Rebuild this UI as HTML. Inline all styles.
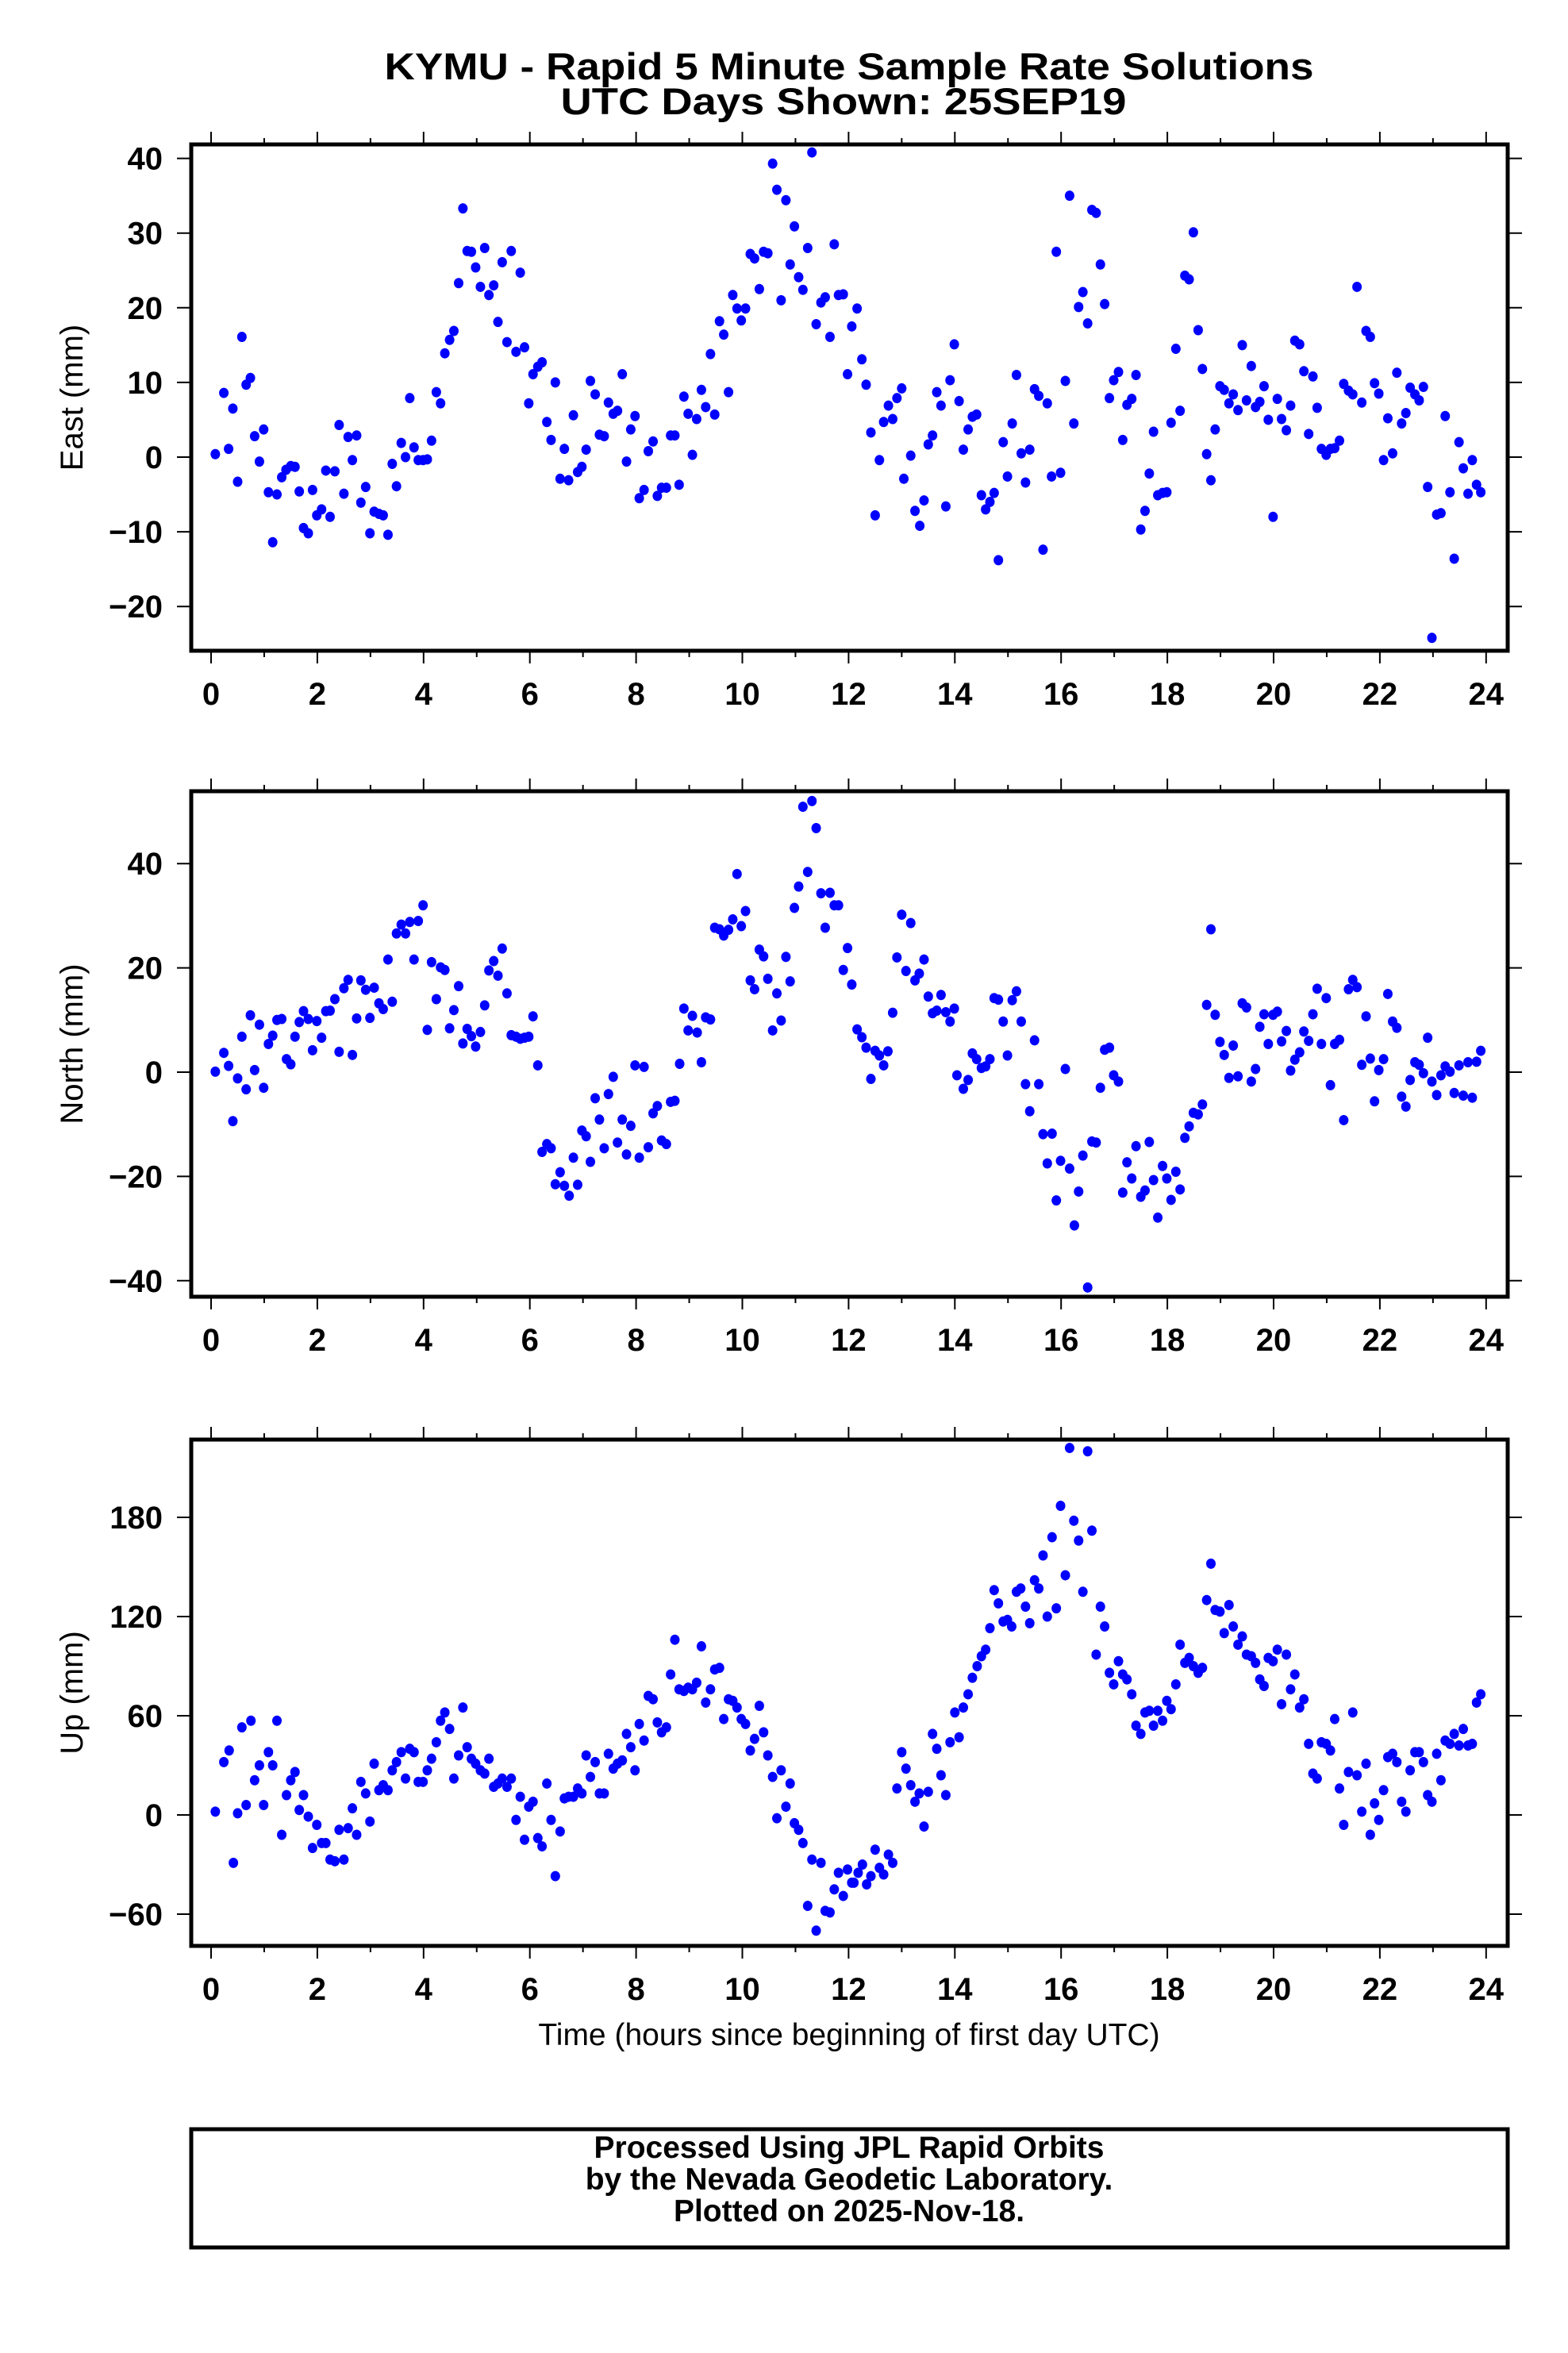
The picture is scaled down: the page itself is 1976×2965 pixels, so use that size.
<!DOCTYPE html>
<html><head><meta charset="utf-8"><style>
html,body{margin:0;padding:0;background:#fff}
svg{display:block}
text{font-family:"Liberation Sans",Arial,sans-serif;fill:#000}
</style></head><body>
<svg id="chart" width="1976" height="2965" viewBox="0 0 1976 2965" xmlns="http://www.w3.org/2000/svg">
<rect x="0" y="0" width="1976" height="2965" fill="#fff"/>
<text x="1070" y="100" font-size="47" font-weight="bold" text-anchor="middle" textLength="1171" lengthAdjust="spacingAndGlyphs">KYMU - Rapid 5 Minute Sample Rate Solutions</text>
<text x="1063" y="144" font-size="47" font-weight="bold" text-anchor="middle" textLength="713" lengthAdjust="spacingAndGlyphs">UTC Days Shown:  25SEP19</text>
<g id="panels"></g>
<text x="1070" y="2577" font-size="39" text-anchor="middle">Time (hours since beginning of first day UTC)</text>
<rect x="241" y="2683" width="1659" height="149" fill="none" stroke="#000" stroke-width="5"/>
<text x="1070" y="2719" font-size="39" font-weight="bold" text-anchor="middle">Processed Using JPL Rapid Orbits</text>
<text x="1070" y="2759" font-size="39" font-weight="bold" text-anchor="middle">by the Nevada Geodetic Laboratory.</text>
<text x="1070" y="2799" font-size="39" font-weight="bold" text-anchor="middle">Plotted on 2025-Nov-18.</text>
</svg>
<script>
const xTicks = [0,2,4,6,8,10,12,14,16,18,20,22,24];
const eastTicks = [-20,-10,0,10,20,30,40];
const northTicks = [-40,-20,0,20,40];
const upTicks = [-60,0,60,120,180];

const eastT = [0.08,0.24,0.33,0.41,0.5,0.58,0.66,0.74,0.82,0.91,0.99,1.08,1.16,1.24,1.33,1.41,1.5,1.58,1.66,1.74,1.83,1.91,1.99,2.08,2.16,2.24,2.33,2.41,2.5,2.58,2.66,2.74,2.82,2.91,2.99,3.07,3.16,3.24,3.33,3.41,3.49,3.58,3.66,3.74,3.82,3.9,3.99,4.07,4.15,4.24,4.32,4.4,4.49,4.57,4.66,4.74,4.82,4.9,4.98,5.07,5.15,5.23,5.32,5.4,5.48,5.57,5.65,5.74,5.82,5.9,5.98,6.06,6.15,6.23,6.32,6.4,6.48,6.57,6.65,6.73,6.82,6.9,6.98,7.06,7.14,7.23,7.31,7.4,7.48,7.57,7.65,7.74,7.82,7.9,7.98,8.06,8.15,8.23,8.32,8.4,8.48,8.57,8.65,8.73,8.81,8.9,8.98,9.06,9.14,9.23,9.31,9.4,9.48,9.57,9.65,9.74,9.82,9.9,9.98,10.06,10.15,10.23,10.32,10.4,10.48,10.57,10.65,10.73,10.82,10.9,10.98,11.06,11.14,11.23,11.31,11.39,11.48,11.56,11.65,11.73,11.81,11.9,11.98,12.06,12.16,12.25,12.33,12.42,12.5,12.58,12.66,12.75,12.83,12.91,13.0,13.04,13.17,13.25,13.34,13.42,13.5,13.58,13.66,13.74,13.83,13.91,13.99,14.08,14.16,14.25,14.33,14.41,14.5,14.58,14.66,14.74,14.82,14.91,14.99,15.08,15.16,15.25,15.33,15.41,15.5,15.58,15.66,15.74,15.82,15.91,15.99,16.08,16.16,16.24,16.33,16.41,16.5,16.58,16.66,16.74,16.82,16.91,16.99,17.08,17.16,17.24,17.33,17.41,17.5,17.58,17.66,17.74,17.82,17.91,17.99,18.07,18.16,18.24,18.33,18.41,18.49,18.58,18.66,18.74,18.82,18.9,18.99,19.07,19.16,19.24,19.33,19.41,19.49,19.58,19.66,19.74,19.82,19.9,19.99,20.07,20.15,20.24,20.32,20.4,20.49,20.57,20.66,20.74,20.82,20.9,20.99,21.07,21.15,21.24,21.32,21.41,21.49,21.57,21.66,21.74,21.82,21.9,21.98,22.07,22.15,22.24,22.32,22.41,22.49,22.57,22.66,22.74,22.82,22.9,22.98,23.07,23.15,23.23,23.32,23.4,23.49,23.57,23.66,23.74,23.82,23.9];
const eastV = [0.4,8.6,1.1,6.5,-3.3,16.1,9.7,10.6,2.8,-0.6,3.7,-4.7,-11.4,-5,-2.7,-1.7,-1.2,-1.3,-4.6,-9.5,-10.2,-4.4,-7.8,-7,-1.8,-8,-1.9,4.3,-4.9,2.7,-0.4,2.9,-6.1,-4,-10.2,-7.3,-7.6,-7.8,-10.4,-0.9,-3.9,1.9,0,7.9,1.3,-0.4,-0.4,-0.3,2.2,8.7,7.2,13.9,15.7,16.9,23.3,33.3,27.6,27.5,25.4,22.8,28,21.7,23,18.1,26.1,15.4,27.6,14.1,24.7,14.7,7.2,11.1,12.1,12.7,4.7,2.3,10,-2.9,1.1,-3.1,5.6,-2,-1.3,1,10.2,8.4,3,2.8,7.3,5.8,6.2,11.1,-0.6,3.7,5.5,-5.5,-4.4,0.8,2.1,-5.2,-4.1,-4.1,2.9,2.9,-3.7,8.1,5.8,0.3,5.1,9,6.7,13.8,5.7,18.2,16.4,8.7,21.7,19.9,18.3,19.9,27.2,26.6,22.5,27.5,27.3,39.3,35.8,21,34.4,25.8,30.9,24.1,22.4,28,40.8,17.8,20.7,21.4,16.1,28.5,21.7,21.8,11.1,17.5,19.9,13.1,9.7,3.3,-7.8,-0.4,4.7,6.9,5.1,7.9,9.2,-2.9,0.2,-7.2,-9.2,-5.8,1.7,2.9,8.7,6.9,-6.6,10.3,15.1,7.5,1,3.7,5.4,5.7,-5.1,-7,-6,-4.8,-13.8,2,-2.6,4.5,11,0.5,-3.4,1,9.1,8.2,-12.4,7.2,-2.6,27.5,-2.1,10.2,35,4.5,20.1,22.1,17.9,33.1,32.7,25.8,20.5,7.9,10.3,11.4,2.3,7,7.8,11,-9.7,-7.2,-2.2,3.4,-5.1,-4.8,-4.7,4.6,14.5,6.2,24.3,23.8,30.1,17,11.8,0.4,-3.1,3.7,9.5,9,7.2,8.4,6.3,15,7.6,12.2,6.7,7.4,9.5,5,-8,7.8,5.1,3.6,6.9,15.6,15.1,11.5,3.1,10.8,6.6,1.1,0.3,1.1,1.2,2.2,9.8,8.9,8.4,22.8,7.3,16.9,16.1,9.9,8.5,-0.4,5.2,0.5,11.3,4.5,5.9,9.3,8.4,7.6,9.4,-4,-24.2,-7.7,-7.5,5.5,-4.7,-13.6,2,-1.5,-4.9,-0.4,-3.7,-4.7];

const northT = [0.08,0.24,0.33,0.41,0.5,0.58,0.66,0.74,0.82,0.91,0.99,1.08,1.16,1.24,1.33,1.42,1.5,1.58,1.66,1.74,1.83,1.91,1.99,2.08,2.16,2.24,2.33,2.41,2.5,2.58,2.66,2.74,2.82,2.91,2.99,3.07,3.16,3.24,3.33,3.41,3.49,3.58,3.66,3.74,3.82,3.9,3.99,4.07,4.15,4.24,4.32,4.4,4.49,4.57,4.66,4.74,4.82,4.9,4.98,5.07,5.15,5.23,5.32,5.4,5.48,5.57,5.65,5.74,5.82,5.9,5.98,6.06,6.15,6.23,6.32,6.4,6.48,6.57,6.65,6.74,6.82,6.9,6.98,7.06,7.14,7.23,7.31,7.4,7.48,7.57,7.65,7.74,7.82,7.9,7.98,8.06,8.15,8.23,8.32,8.4,8.48,8.57,8.65,8.73,8.82,8.9,8.98,9.06,9.15,9.23,9.31,9.4,9.48,9.57,9.65,9.74,9.82,9.9,9.98,10.06,10.15,10.23,10.32,10.4,10.48,10.57,10.65,10.73,10.82,10.9,10.98,11.06,11.14,11.23,11.31,11.39,11.48,11.56,11.65,11.73,11.81,11.9,11.98,12.06,12.16,12.25,12.33,12.42,12.5,12.58,12.66,12.74,12.83,12.91,13.0,13.08,13.17,13.25,13.33,13.42,13.5,13.58,13.66,13.74,13.83,13.91,13.99,14.04,14.16,14.25,14.33,14.41,14.5,14.58,14.66,14.74,14.82,14.91,14.99,15.08,15.16,15.25,15.33,15.41,15.5,15.58,15.66,15.74,15.83,15.91,15.99,16.08,16.16,16.25,16.33,16.41,16.5,16.58,16.66,16.74,16.82,16.91,16.99,17.08,17.16,17.24,17.33,17.41,17.5,17.58,17.66,17.74,17.82,17.91,17.99,18.07,18.16,18.24,18.33,18.41,18.49,18.58,18.66,18.74,18.82,18.9,18.99,19.07,19.16,19.24,19.33,19.41,19.49,19.58,19.66,19.74,19.82,19.9,19.99,20.07,20.15,20.24,20.32,20.4,20.49,20.57,20.66,20.74,20.82,20.9,20.99,21.07,21.15,21.24,21.32,21.41,21.49,21.57,21.66,21.74,21.82,21.9,21.98,22.07,22.15,22.24,22.32,22.41,22.49,22.57,22.66,22.74,22.82,22.9,22.98,23.07,23.15,23.23,23.32,23.4,23.49,23.57,23.66,23.74,23.82,23.9];
const northV = [0.1,3.7,1.2,-9.4,-1.2,6.8,-3.3,10.9,0.4,9.1,-3,5.4,7,10,10.2,2.5,1.5,6.8,9.6,11.7,10.2,4.2,9.8,6.6,11.7,11.8,14,3.9,16.1,17.7,3.3,10.3,17.6,15.8,10.4,16.2,13.2,12.1,21.6,13.5,26.6,28.3,26.6,28.8,21.6,29,32,8.1,21.1,14,20.1,19.6,8.4,11.9,16.5,5.5,8.3,6.9,4.9,7.7,12.8,19.5,21.3,18.5,23.7,15.1,7.1,6.8,6.4,6.6,6.8,10.7,1.3,-15.3,-13.8,-14.6,-21.5,-19.2,-21.8,-23.7,-16.4,-21.6,-11.2,-12.3,-17.2,-5,-9.1,-14.6,-4.2,-0.9,-13.5,-9.1,-15.8,-10.3,1.3,-16.4,1,-14.4,-7.9,-6.5,-13.1,-13.8,-5.7,-5.5,1.6,12.2,8,10.8,7.6,1.9,10.5,10.1,27.7,27.4,26.2,27.3,29.3,38,28,30.9,17.6,15.9,23.5,22.2,17.9,8,15.1,9.9,22.1,17.4,31.5,35.6,50.9,38.4,52,46.8,34.3,27.7,34.4,32,32,19.6,23.8,16.8,8.2,6.7,4.7,-1.3,4.1,3.2,1.3,4,11.4,22,30.2,19.4,28.6,17.6,18.9,21.6,14.5,11.3,11.8,14.8,11.5,9.7,12.2,-0.6,-3.2,-1.5,3.6,2.5,0.8,1.1,2.5,14.2,13.9,9.7,3.2,13.8,15.5,9.7,-2.3,-7.5,6.1,-2.3,-11.9,-17.5,-11.8,-24.6,-17,0.6,-18.5,-29.4,-22.9,-16,-41.3,-13.3,-13.5,-3,4.3,4.7,-0.6,-1.8,-23.1,-17.3,-20.4,-14.2,-23.9,-22.7,-13.4,-20.7,-27.9,-18,-20.4,-24.5,-19.1,-22.5,-12.6,-10.4,-7.8,-8.1,-6.2,12.9,27.4,11,5.8,3.3,-1.1,5.1,-0.8,13.2,12.4,-1.8,0.6,8.7,11.1,5.4,11,11.6,5.9,7.9,0.3,2.4,3.8,7.8,6,11.1,16,5.4,14.2,-2.5,5.4,6.2,-9.2,15.9,17.7,16.3,1.4,10.7,2.6,-5.6,0.4,2.5,15,9.7,8.5,-4.7,-6.6,-1.5,1.9,1.4,-0.2,6.6,-1.8,-4.4,-0.6,1.1,0.1,-4,1.3,-4.5,1.9,-4.9,2,4.1];

const upT = [0.08,0.24,0.34,0.42,0.5,0.58,0.66,0.75,0.82,0.91,0.99,1.08,1.16,1.24,1.33,1.42,1.5,1.58,1.66,1.74,1.83,1.91,1.99,2.08,2.16,2.24,2.33,2.41,2.5,2.58,2.66,2.74,2.82,2.91,2.99,3.07,3.16,3.24,3.33,3.41,3.49,3.58,3.66,3.74,3.82,3.9,3.99,4.07,4.15,4.24,4.32,4.4,4.49,4.57,4.66,4.74,4.82,4.9,4.98,5.07,5.15,5.23,5.32,5.4,5.48,5.57,5.65,5.74,5.82,5.9,5.98,6.06,6.15,6.23,6.32,6.4,6.48,6.57,6.65,6.73,6.82,6.9,6.98,7.06,7.14,7.23,7.31,7.4,7.48,7.57,7.65,7.74,7.82,7.9,7.98,8.06,8.15,8.23,8.32,8.4,8.48,8.57,8.65,8.73,8.81,8.9,8.98,9.06,9.14,9.23,9.31,9.4,9.48,9.57,9.65,9.74,9.82,9.9,9.98,10.06,10.15,10.23,10.32,10.4,10.48,10.57,10.65,10.73,10.82,10.9,10.98,11.06,11.14,11.23,11.31,11.39,11.48,11.56,11.65,11.73,11.81,11.9,11.98,12.06,12.1,12.18,12.26,12.34,12.42,12.5,12.58,12.66,12.75,12.83,12.91,13.0,13.08,13.17,13.25,13.33,13.42,13.5,13.58,13.66,13.74,13.83,13.91,14.0,14.08,14.16,14.25,14.33,14.42,14.5,14.58,14.66,14.74,14.82,14.91,14.99,15.07,15.16,15.24,15.33,15.41,15.5,15.58,15.66,15.74,15.83,15.91,15.99,16.08,16.16,16.24,16.33,16.41,16.5,16.58,16.66,16.74,16.82,16.91,16.99,17.08,17.16,17.24,17.33,17.41,17.5,17.58,17.66,17.74,17.82,17.91,17.99,18.07,18.16,18.24,18.33,18.41,18.49,18.58,18.66,18.74,18.82,18.9,18.99,19.07,19.16,19.24,19.33,19.41,19.49,19.58,19.66,19.74,19.82,19.9,19.99,20.07,20.15,20.24,20.32,20.4,20.49,20.57,20.66,20.74,20.82,20.9,20.99,21.07,21.15,21.24,21.32,21.41,21.49,21.57,21.66,21.74,21.82,21.9,21.98,22.07,22.15,22.24,22.32,22.41,22.49,22.57,22.66,22.74,22.82,22.9,22.98,23.07,23.15,23.23,23.32,23.4,23.49,23.57,23.66,23.74,23.82,23.9];
const upV = [2,32,39,-29,1,53,6,57,21,30,6,38,30,57,-12,12,21,26,3,12,-1,-20,-6,-17,-17,-27,-28,-9,-27,-8,4,-12,20,13,-4,31,15,18,15,27,32,38,22,40,38,20,20,27,34,44,57,62,52,22,36,65,41,34,31,27,25,34,17,19,22,17,22,-3,11,-15,5,8,-14,-19,19,-3,-37,-10,10,11,11,16,13,36,23,32,13,13,37,28,31,33,49,41,27,55,45,72,70,56,50,53,85,106,76,75,77,76,80,102,68,76,88,89,58,70,69,65,58,55,39,46,66,50,36,23,-2,27,5,19,-5,-9,-17,-55,-27,-70,-29,-58,-59,-45,-35,-49,-33,-41,-41,-35,-30,-42,-37,-21,-32,-36,-24,-29,16,38,28,18,8,13,-7,14,49,40,24,12,44,62,47,65,73,83,90,96,100,113,136,128,117,118,114,135,137,126,116,142,137,157,120,168,125,187,145,222,178,166,135,220,172,97,126,114,86,79,93,85,82,73,54,49,62,63,54,63,57,69,64,79,103,92,95,90,86,89,130,152,124,123,110,127,114,103,108,97,96,92,82,78,95,93,100,67,97,76,85,65,70,43,25,22,44,43,39,58,16,-6,26,62,24,2,31,-12,7,-3,15,35,37,32,8,2,27,38,38,32,12,8,37,21,45,43,49,42,52,42,43,68,73];

const NS='http://www.w3.org/2000/svg';
const X0=266, XS=66.95, BL=241, BR=1900;
function xPos(h){return X0+h*XS;}
const panels=[
 {key:'east',label:'East (mm)',top:182,bot:820,zero:576,scale:9.41,ticks:eastTicks,t:eastT,v:eastV},
 {key:'north',label:'North (mm)',top:997,bot:1634,zero:1351,scale:6.57,ticks:northTicks,t:northT,v:northV},
 {key:'up',label:'Up (mm)',top:1814,bot:2452,zero:2287,scale:2.083,ticks:upTicks,t:upT,v:upV}
];
const root=document.getElementById('panels');
function mk(tag,attrs,parent){const e=document.createElementNS(NS,tag);for(const k in attrs)e.setAttribute(k,attrs[k]);(parent||root).appendChild(e);return e;}
panels.forEach(p=>{
 const yPos=v=>p.zero-v*p.scale;
 const g=mk('g',{});
 
 
 for(let h=0;h<=24;h++){
  const x=xPos(h); const len=(h%2===0)?16:8;
  const tb=mk('line',{x1:x,x2:x,y1:p.bot,y2:p.bot+len,stroke:'#000','stroke-width':2},g);
  
  
  const tt=mk('line',{x1:x,x2:x,y1:p.top,y2:p.top-len,stroke:'#000','stroke-width':2},g);
  
  
 }
 xTicks.forEach(h=>{
  const t=mk('text',{x:xPos(h),y:p.bot+68,'font-size':40,'font-weight':'bold','text-anchor':'middle'},g);
  t.textContent=String(h);
  
  
 });
 p.ticks.forEach(v=>{
  const y=yPos(v);
  const tl=mk('line',{x1:BL-18,x2:BL,y1:y,y2:y,stroke:'#000','stroke-width':2},g);
  
  
  const tr=mk('line',{x1:BR,x2:BR+18,y1:y,y2:y,stroke:'#000','stroke-width':2},g);
  
  
  const t=mk('text',{x:205,y:y+14,'font-size':40,'font-weight':'bold','text-anchor':'end'},g);
  t.textContent=(v<0?'\u2212'+(-v):String(v));
  
  
 });
 const cy=(p.top+p.bot)/2;
 const yl=mk('text',{x:0,y:0,'font-size':40,'text-anchor':'middle',transform:'translate(104,'+cy+') rotate(-90)'},g);
 yl.textContent=p.label;
 
 
 const dots=mk('g',{fill:'#0000ff'},g);
 
 
 p.t.forEach((h,i)=>{
  const c=mk('ellipse',{cx:xPos(h),cy:yPos(p.v[i]),rx:6,ry:6.5},dots);
  
  
 });
 const fr=mk('rect',{x:BL,y:p.top,width:BR-BL,height:p.bot-p.top,fill:'none',stroke:'#000','stroke-width':5},g);
 
 
});
</script>
</body></html>
